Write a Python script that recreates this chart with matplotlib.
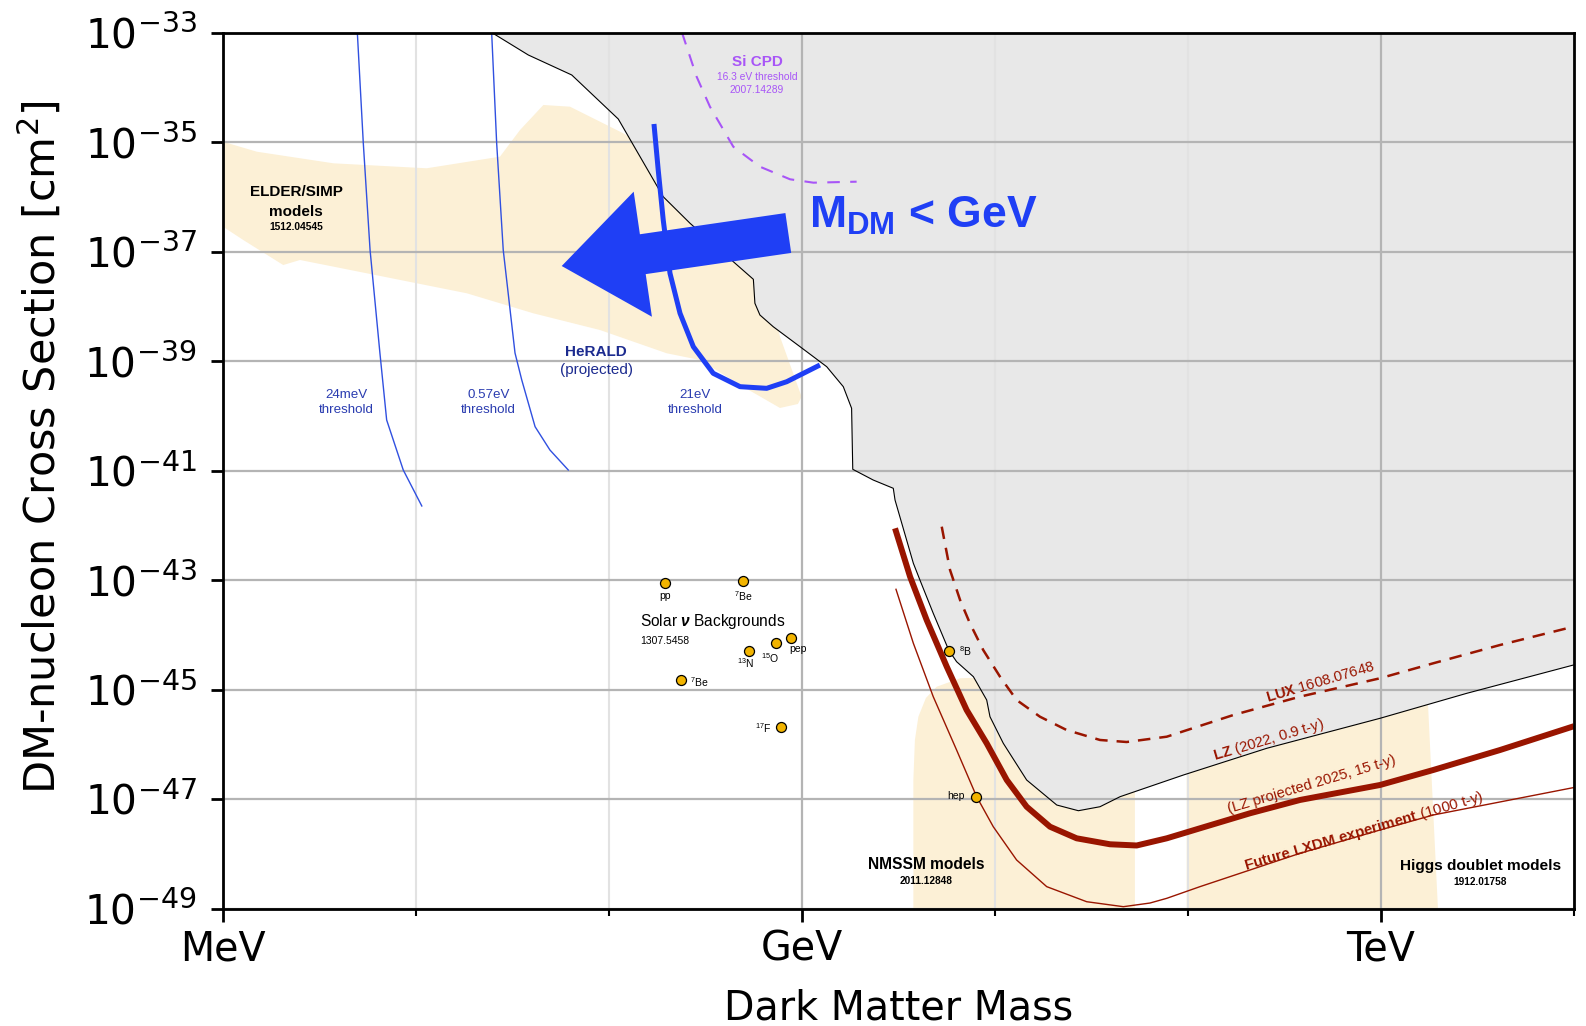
import numpy as np
import matplotlib
matplotlib.use('Agg')
import matplotlib.pyplot as plt
from matplotlib.ticker import FixedLocator, FixedFormatter, NullLocator

plt.rcParams['mathtext.fontset'] = 'custom'
plt.rcParams['mathtext.rm'] = 'Liberation Sans'
plt.rcParams['mathtext.it'] = 'Liberation Sans:italic'
plt.rcParams['mathtext.bf'] = 'Liberation Sans:bold'
plt.rcParams['mathtext.sf'] = 'Liberation Sans'
plt.rcParams['lines.solid_joinstyle'] = 'round'
plt.rcParams['lines.dash_joinstyle'] = 'round'
try:
    plt.rcParams['mathtext.bfit'] = 'Liberation Sans:italic:bold'
    NU = r'$\mathbfit{\nu}$'
except KeyError:
    NU = r'$\mathbf{\nu}$'

SANS = ['Liberation Sans', 'DejaVu Sans']
RED = '#991500'
BLUE = '#1f3ff5'
THIN_BLUE = '#3050e0'
NAVY = '#1c2b8f'
PURPLE = '#a855f7'
BEIGE = '#fcf0d6'
GRAY = '#e8e8e8'

# everything below is log10(mass / GeV) and log10(sigma / cm^2)

# current exclusion, upper edge of gray region
excl_m = [-1.608, -1.418, -1.193, -0.952, -0.719, -0.580, -0.356, -0.252, -0.244, -0.218,
          -0.149, -0.010, 0.128, 0.214, 0.257, 0.263, 0.369, 0.473, 0.482, 0.577,
          0.611, 0.680, 0.760, 0.801, 0.888, 0.957, 0.974, 1.043, 1.164, 1.320,
          1.432, 1.544, 1.648, 1.976, 2.408, 2.995, 3.444, 4.0]
excl_s = [-33.0, -33.411, -33.776, -34.580, -36.0, -36.485, -37.186, -37.508, -37.946, -38.160,
          -38.374, -38.739, -39.104, -39.469, -39.864, -40.978, -41.174, -41.325, -41.539, -42.695,
          -43.0, -43.608, -44.279, -44.492, -44.766, -45.192, -45.497, -45.983, -46.653, -47.110,
          -47.214, -47.141, -46.958, -46.562, -46.074, -45.526, -45.070, -44.55]

# ELDER/SIMP model band
elder_m = [-3.0, -2.825, -2.428, -1.945, -1.565, -1.461, -1.340, -1.202, -0.926, -0.528,
           -0.218, -0.114, -0.002, -0.021, -0.114, -0.321, -0.528, -0.701, -1.047, -1.392,
           -1.737, -2.255, -2.601, -2.688, -2.895, -3.0]
elder_s = [-34.995, -35.177, -35.389, -35.480, -35.268, -34.781, -34.324, -34.355, -34.841, -35.694,
           -37.155, -38.556, -39.652, -39.785, -39.858, -39.438, -38.982, -38.859, -38.434, -38.129,
           -37.763, -37.398, -37.155, -37.247, -36.790, -36.547]

# NMSSM and Higgs doublet model bands
nmssm_m = [0.577, 0.577, 0.585, 0.603, 0.642, 0.698, 0.819, 0.950, 1.725, 1.725]
nmssm_s = [-49.0, -46.653, -45.922, -45.497, -45.155, -44.949, -44.795, -44.78, -44.78, -49.0]
higgs_m = [1.993, 1.993, 3.200, 3.244, 3.295]
higgs_s = [-49.0, -44.9, -44.9, -45.3, -49.0]

# HeRALD projections
herald24_m = [-2.304, -2.273, -2.238, -2.187, -2.152, -2.066, -1.970]
herald24_s = [-33.0, -35.024, -36.973, -38.854, -40.078, -40.991, -41.648]
herald057_m = [-1.608, -1.582, -1.548, -1.487, -1.452, -1.383, -1.306, -1.211]
herald057_s = [-33.0, -35.024, -36.973, -38.854, -39.347, -40.200, -40.626, -40.991]
herald21_m = [-0.767, -0.745, -0.719, -0.684, -0.632, -0.563, -0.460, -0.321, -0.183, -0.079, 0.093]
herald21_s = [-34.671, -35.511, -36.425, -37.398, -38.129, -38.739, -39.225, -39.469, -39.499, -39.378, -39.073]

# Si CPD
sicpd_m = [-0.622, -0.546, -0.477, -0.356, -0.218, -0.062, 0.059, 0.283]
sicpd_s = [-33.0, -33.807, -34.355, -35.086, -35.451, -35.681, -35.743, -35.725]

# LUX, LZ projected, future LXDM
lux_m = [0.724, 0.767, 0.819, 0.870, 0.939, 1.026, 1.112, 1.233, 1.371, 1.544,
         1.682, 1.890, 2.235, 2.580, 2.995, 3.271, 3.617, 4.0]
lux_s = [-42.026, -42.817, -43.365, -43.791, -44.279, -44.766, -45.192, -45.497, -45.740, -45.922,
         -45.959, -45.862, -45.466, -45.131, -44.795, -44.521, -44.187, -43.85]
lzp_m = [0.482, 0.560, 0.646, 0.750, 0.853, 0.957, 1.061, 1.164, 1.285, 1.423,
         1.596, 1.734, 1.890, 2.062, 2.321, 2.580, 2.995, 3.271, 3.617, 4.0]
lzp_s = [-42.056, -42.940, -43.731, -44.583, -45.374, -45.983, -46.653, -47.141, -47.506, -47.718,
         -47.827, -47.849, -47.718, -47.535, -47.261, -47.018, -46.744, -46.470, -46.105, -45.67]
lxdm_m = [0.487, 0.577, 0.680, 0.801, 0.905, 0.991, 1.112, 1.268, 1.475, 1.665,
          1.803, 1.890, 2.062, 2.321, 2.580, 2.995, 3.271, 4.0]
lxdm_s = [-43.170, -44.156, -45.131, -46.105, -46.958, -47.506, -48.114, -48.601, -48.876, -48.967,
          -48.900, -48.814, -48.601, -48.297, -47.992, -47.566, -47.292, -46.79]

# solar neutrino floor points
sol_names = ['pp', '$^{7}$Be', 'pep', '$^{15}$O', '$^{13}$N', '$^{7}$Be', '$^{17}$F', '$^{8}$B', 'hep']
sol_m = [-0.710, -0.304, -0.057, -0.136, -0.275, -0.628, -0.110, 0.762, 0.901]
sol_s = [-43.049, -43.013, -44.054, -44.156, -44.297, -44.826, -45.685, -44.297, -46.958]
sol_off = [(0, -9.6), (0, -11), (4.8, -8.4), (-4.1, -10.4), (-2.4, -8.9), (6.7, -1.2), (-7, -0.5), (7, 0), (-8.4, 0.8)]
sol_ha = ['center', 'center', 'center', 'center', 'center', 'left', 'right', 'left', 'right']

arrow_tail = (-0.071, -36.662)
arrow_tip = (-1.245, -37.265)

x_major = [-3, 0, 3]
x_major_labels = ['MeV', 'GeV', 'TeV']
x_minor = [-2, -1, 1, 2, 4]
y_ticks = [-33, -35, -37, -39, -41, -43, -45, -47, -49]


def lg(a):
    return np.power(10.0, np.asarray(a, dtype=float))


fig = plt.figure(figsize=(15.86, 10.26), dpi=100)
ax = fig.add_axes([223 / 1586, 1 - 908.5 / 1026, 1351 / 1586, 876 / 1026])
ax.set_xscale('log')
ax.set_yscale('log')
ax.set_xlim(1e-3, 1e4)
ax.set_ylim(1e-49, 1e-33)

# bands and excluded region
ax.fill(lg(elder_m), lg(elder_s), color=BEIGE, lw=0, zorder=1)
ax.fill(lg(nmssm_m), lg(nmssm_s), color=BEIGE, lw=0, zorder=1)
ax.fill(lg(higgs_m), lg(higgs_s), color=BEIGE, lw=0, zorder=1)
gx = np.r_[lg(excl_m), 1e4]
gy = np.r_[lg(excl_s), 1e-33]
ax.fill(gx, gy, color=GRAY, lw=0, zorder=1.2)
ax.plot(lg(excl_m), lg(excl_s), color='black', lw=0.8, zorder=2)

# grid
ax.set_axisbelow('line')
ax.xaxis.set_major_locator(FixedLocator(lg(x_major)))
ax.xaxis.set_major_formatter(FixedFormatter(x_major_labels))
ax.xaxis.set_minor_locator(FixedLocator(lg(x_minor)))
ax.xaxis.set_minor_formatter(FixedFormatter([''] * len(x_minor)))
ax.yaxis.set_major_locator(FixedLocator(lg(y_ticks)))
ax.yaxis.set_minor_locator(NullLocator())
ax.grid(which='major', color='#b4b4b4', lw=1.6)
ax.grid(which='minor', axis='x', color='#e2e2e2', lw=1.5)

# HeRALD
ax.plot(lg(herald24_m), lg(herald24_s), color=THIN_BLUE, lw=1.0, zorder=2)
ax.plot(lg(herald057_m), lg(herald057_s), color=THIN_BLUE, lw=1.0, zorder=2)
ax.plot(lg(herald21_m), lg(herald21_s), color=BLUE, lw=3.6, zorder=3, solid_capstyle='butt')

# Si CPD
ax.plot(lg(sicpd_m), lg(sicpd_s), color=PURPLE, lw=1.5, ls=(0, (6, 5)), zorder=3)

# xenon experiments
ax.plot(lg(lux_m), lg(lux_s), color=RED, lw=1.8, ls=(0, (5, 3.6)), zorder=3)
ax.plot(lg(lzp_m), lg(lzp_s), color=RED, lw=4.3, zorder=3, solid_capstyle='butt')
ax.plot(lg(lxdm_m), lg(lxdm_s), color=RED, lw=1.0, zorder=3)

# solar neutrinos
ax.plot(lg(sol_m), lg(sol_s), 'o', ms=7.2, mfc='#f2b400', mec='black', mew=0.9, zorder=4)
for name, m, s, off, ha in zip(sol_names, sol_m, sol_s, sol_off, sol_ha):
    ax.annotate(name, (10 ** m, 10 ** s), xytext=off, textcoords='offset points',
                ha=ha, va='center', fontsize=7.5, family=SANS, zorder=5)

# big arrow
ax.annotate('', xy=lg(arrow_tip), xytext=lg(arrow_tail),
            arrowprops=dict(arrowstyle='simple,head_length=59,head_width=91,tail_width=29',
                            color=BLUE, shrinkA=0, shrinkB=0, mutation_scale=1, lw=0),
            zorder=4)
ax.text(10 ** 0.034, 10 ** -36.576, r'$\mathbf{M}_{\mathbf{DM}}$ < GeV', fontsize=32,
        fontweight='bold', color=BLUE, family=SANS, va='baseline', ha='left', zorder=5)


def label(m, s, txt, size, color='black', weight='normal', **kw):
    ax.text(10 ** m, 10 ** s, txt, fontsize=size, color=color, fontweight=weight,
            family=SANS, ha=kw.pop('ha', 'center'), va=kw.pop('va', 'center'), zorder=5, **kw)


label(-2.621, -35.908, 'ELDER/SIMP', 11, weight='bold')
label(-2.621, -36.273, 'models', 11, weight='bold')
label(-2.621, -36.553, '1512.04545', 7.4, weight='bold')

label(-0.233, -33.533, 'Si CPD', 11, color=PURPLE, weight='bold')
label(-0.233, -33.818, '16.3 eV threshold', 7.4, color=PURPLE)
label(-0.233, -34.050, '2007.14289', 7.4, color=PURPLE)

label(-1.067, -38.830, 'HeRALD', 11, color=NAVY, weight='bold')
label(-1.067, -39.164, '(projected)', 11, color=NAVY)
for m, t in [(-2.359, '24meV'), (-1.625, '0.57eV'), (-0.554, '21eV')]:
    label(m, -39.621, t, 9.6, color='#2a3cb0')
    label(m, -39.895, 'threshold', 9.6, color='#2a3cb0')

label(-0.839, -43.749, 'Solar ' + NU + ' Backgrounds', 11.2, ha='left')
label(-0.839, -44.114, '1307.5458', 7.5, ha='left')

label(0.642, -48.205, 'NMSSM models', 11.2, weight='bold')
label(0.642, -48.492, '2011.12848', 7.3, weight='bold')
label(3.518, -48.224, 'Higgs doublet models', 11.1, weight='bold')
label(3.513, -48.522, '1912.01758', 7.3, weight='bold')

label(2.688, -44.863, r'$\mathbf{LUX}$ 1608.07648', 10.6, color=RED, rotation=16.5, rotation_mode='anchor')
label(2.420, -45.922, r'$\mathbf{LZ}$ (2022, 0.9 t-y)', 10.6, color=RED, rotation=16.5, rotation_mode='anchor')
label(2.641, -46.744, '(LZ projected 2025, 15 t-y)', 10.6, color=RED, rotation=16.5, rotation_mode='anchor')
label(2.912, -47.60, r'$\mathbf{Future\ LXDM\ experiment}$ (1000 t-y)', 10.9, color=RED,
      rotation=16.3, rotation_mode='anchor')

# axes styling
for sp in ax.spines.values():
    sp.set_linewidth(2.0)
    sp.set_zorder(6)
ax.tick_params(which='major', length=9, width=2, labelsize=28.5)
ax.tick_params(which='minor', length=5, width=1.5)
ax.tick_params(axis='y', which='major', pad=10, labelsize=29.3)
ax.tick_params(axis='x', which='major', pad=6)
ax.set_xlabel('Dark Matter Mass', fontsize=28.5)
ax.set_ylabel(r'DM-nucleon Cross Section [cm$^\mathdefault{2}$]', fontsize=31)
ax.xaxis.set_label_coords(0.5, -0.0915)
ax.yaxis.set_label_coords(-0.117, 0.527)

fig.savefig('out.png', dpi=100)
